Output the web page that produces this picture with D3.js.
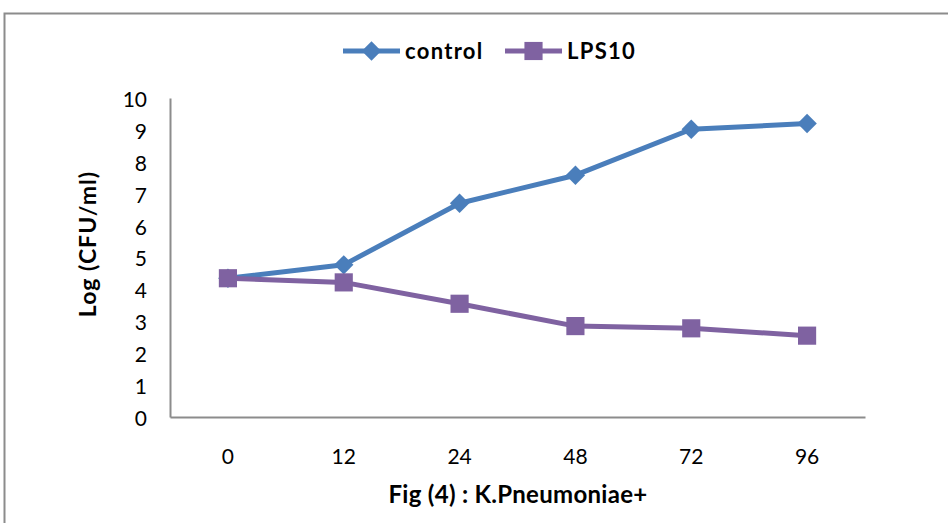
<!DOCTYPE html>
<html>
  <head>
    <meta charset="utf-8">
    <title>Fig (4) : K.Pneumoniae+</title>
    <script src="https://cdn.jsdelivr.net/npm/d3@7"></script>
    <style>
      body { margin: 0; background: #fff; }
      svg { display: block; }
      svg text { font-family: Lato, "Open Sans", sans-serif; }
      .axis path { stroke: #8c8c8c; stroke-width: 2; }
      .axis text { font-size: 21px; fill: #000; font-family: Lato, "Open Sans", sans-serif; }
      .title { font-weight: bold; fill: #000; }
    </style>
  </head>
  <body>
    <svg id="chart" width="948" height="523"></svg>

    <script>
      // data
      hours = ["0", "12", "24", "48", "72", "96"];
      control = [4.35, 4.77, 6.7, 7.58, 9.02, 9.2];
      lps10 = [4.35, 4.22, 3.55, 2.85, 2.78, 2.55];
      yTicks = [0, 1, 2, 3, 4, 5, 6, 7, 8, 9, 10];

      series = [
        { name: "control", values: control, color: "#4a7ebb", marker: "diamond" },
        { name: "LPS10", values: lps10, color: "#7f62a1", marker: "square" }
      ];

      chart = d3.select("#chart");
      margin = { top: 98, right: 83, bottom: 106, left: 170 };
      width = 948;
      height = 523;

      // outer frame
      chart.append("rect")
        .attr("x", 4.5)
        .attr("y", 13.5)
        .attr("width", 960)
        .attr("height", 540)
        .attr("fill", "none")
        .attr("stroke", "#8c8c8c")
        .attr("stroke-width", 2);

      x = d3.scaleBand()
        .domain(hours)
        .range([margin.left, width - margin.right]);
      y = d3.scaleLinear()
        .domain([0, 10])
        .range([height - margin.bottom, margin.top]);

      xAxis = d3.axisBottom(x).tickSize(0).tickPadding(32);
      yAxis = d3.axisLeft(y).tickValues(yTicks).tickSize(0).tickPadding(23);

      chart.append("g")
        .attr("class", "axis")
        .attr("transform", "translate(0, " + y(0) + ")")
        .call(xAxis);
      chart.append("g")
        .attr("class", "axis")
        .attr("transform", "translate(" + margin.left + ", 0)")
        .call(yAxis)
        .selectAll("text")
          .attr("dy", "0.4em");

      line = d3.line()
        .x(function(d, i) { return x(hours[i]) + x.bandwidth() / 2; })
        .y(function(d) { return y(d); });

      diamond = d3.symbol().type(d3.symbolDiamond2).size(240);
      square = d3.symbol().type(d3.symbolSquare2).size(420);

      groups = chart.selectAll(".series")
        .data(series)
        .enter().append("g")
          .attr("class", "series");

      groups.append("path")
        .attr("d", function(d) { return line(d.values); })
        .attr("fill", "none")
        .attr("stroke", function(d) { return d.color; })
        .attr("stroke-width", 5)
        .attr("stroke-linejoin", "round");

      groups.selectAll(".marker")
        .data(function(d) {
          return d.values.map(function(v, i) { return { v: v, i: i, s: d }; });
        })
        .enter().append("path")
          .attr("class", "marker")
          .attr("transform", function(d) {
            return "translate(" + (x(hours[d.i]) + x.bandwidth() / 2) + ", " + y(d.v) + ")";
          })
          .attr("d", function(d) {
            return d.s.marker === "diamond" ? diamond() : square();
          })
          .attr("fill", function(d) { return d.s.color; });

      // legend
      legendX = [343, 505];
      legend = chart.selectAll(".legend")
        .data(series)
        .enter().append("g")
          .attr("class", "legend")
          .attr("transform", function(d, i) { return "translate(" + legendX[i] + ", 51)"; });
      legend.append("line")
        .attr("x1", 0)
        .attr("x2", 57)
        .attr("stroke", function(d) { return d.color; })
        .attr("stroke-width", 5);
      legend.append("path")
        .attr("transform", "translate(28.5, 0)")
        .attr("d", function(d) {
          return d.marker === "diamond" ? diamond() : square();
        })
        .attr("fill", function(d) { return d.color; });
      legend.append("text")
        .attr("class", "title")
        .attr("x", 62)
        .attr("dy", "0.36em")
        .style("font-size", "22px")
        .style("letter-spacing", "1.3px")
        .text(function(d) { return d.name; });

      // titles
      chart.append("text")
        .attr("class", "title")
        .attr("transform", "translate(96, 244) rotate(-90)")
        .attr("text-anchor", "middle")
        .style("font-size", "23px")
        .style("letter-spacing", "1px")
        .text("Log (CFU/ml)");
      chart.append("text")
        .attr("class", "title")
        .attr("x", 518)
        .attr("y", 503)
        .attr("text-anchor", "middle")
        .style("font-size", "24px")
        .style("letter-spacing", "0.3px")
        .text("Fig (4) : K.Pneumoniae+");
    </script>
  </body>
</html>
